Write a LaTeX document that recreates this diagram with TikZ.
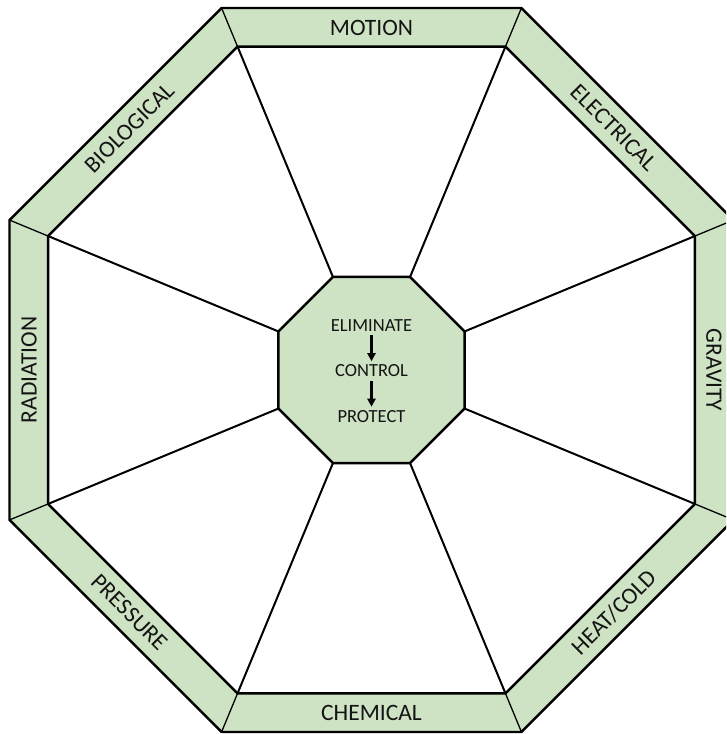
\documentclass[tikz,border=0pt]{standalone}
\usepackage{fontspec}
\setmainfont{Carlito}
\usetikzlibrary{calc,arrows.meta}
\definecolor{bandgreen}{RGB}{206,227,195}
\definecolor{inkc}{RGB}{20,20,20}
\tikzset{
  bandlabel/.style={text=inkc, font=\fontsize{23.5}{28}\selectfont, inner sep=0pt},
  steplabel/.style={text=inkc, font=\fontsize{18.5}{22}\selectfont, inner sep=3pt},
  steparrow/.style={-{Triangle[width=8pt,length=8pt]}, line width=2.6pt, shorten <=0.5pt, shorten >=0.5pt},
  outerline/.style={line width=2.4pt, line join=miter},
  innerline/.style={line width=2.5pt, line join=miter},
  sepline/.style={line width=1.3pt},
  spokeline/.style={line width=2pt}
}
\begin{document}
\begin{tikzpicture}[x=1pt,y=1pt]
\useasboundingbox (0,0) rectangle (726,734);
\clip (0,0) rectangle (726,734);
\coordinate (C) at (371.5,364);
\def\Ro{391.8}
\def\Ri{350}
\def\Rc{100.7}
\def\Rl{342.5}
\foreach \i in {1,...,8}{
  \coordinate (o\i) at ($(C)+({22.5+45*\i}:\Ro)$);
  \coordinate (i\i) at ($(C)+({22.5+45*\i}:\Ri)$);
  \coordinate (c\i) at ($(C)+({22.5+45*\i}:\Rc)$);
}
% outer band
\fill[bandgreen] (o1) -- (o2) -- (o3) -- (o4) -- (o5) -- (o6) -- (o7) -- (o8) -- cycle;
\draw[outerline] (o1) -- (o2) -- (o3) -- (o4) -- (o5) -- (o6) -- (o7) -- (o8) -- cycle;
% inner white octagon
\draw[innerline, fill=white] (i1) -- (i2) -- (i3) -- (i4) -- (i5) -- (i6) -- (i7) -- (i8) -- cycle;
% band separators and spokes
\foreach \i in {1,...,8}{
  \draw[sepline] (o\i) -- (i\i);
  \draw[spokeline] (c\i) -- (i\i);
}
% centre octagon
\draw[innerline, fill=bandgreen] (c1) -- (c2) -- (c3) -- (c4) -- (c5) -- (c6) -- (c7) -- (c8) -- cycle;
% band labels
\node[bandlabel] (motion) at ($(C)+(90:\Rl)$) {MOTION};
\node[bandlabel, rotate=-45] (electrical) at ($(C)+(45:\Rl)$) {ELECTRICAL};
\node[bandlabel, rotate=-90] (gravity) at ($(C)+(0:\Rl)$) {GRAVITY};
\node[bandlabel, rotate=45] (heatcold) at ($(C)+(-45:\Rl)$) {HEAT/COLD};
\node[bandlabel] (chemical) at ($(C)+(-90:\Rl)$) {CHEMICAL};
\node[bandlabel, rotate=-45] (pressure) at ($(C)+(-135:\Rl)$) {PRESSURE};
\node[bandlabel, rotate=90] (radiation) at ($(C)+(180:\Rl)$) {RADIATION};
\node[bandlabel, rotate=45] (biological) at ($(C)+(135:\Rl)$) {BIOLOGICAL};
% centre text
\node[steplabel] (elim) at ($(C)+(0,44.5)$) {ELIMINATE};
\node[steplabel] (ctrl) at ($(C)+(0,-1)$) {CONTROL};
\node[steplabel] (prot) at ($(C)+(0,-46.5)$) {PROTECT};
\draw[steparrow] (elim) -- (ctrl);
\draw[steparrow] (ctrl) -- (prot);
\end{tikzpicture}
\end{document}
